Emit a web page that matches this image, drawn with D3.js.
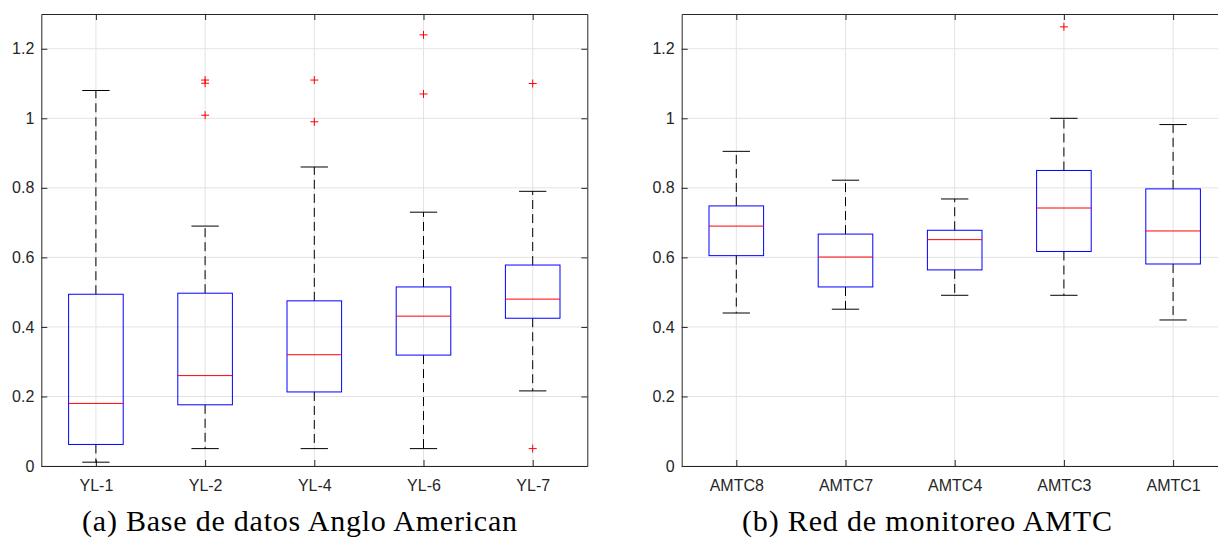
<!DOCTYPE html>
<html><head><meta charset="utf-8">
<script src="https://cdn.jsdelivr.net/npm/d3@7"></script>
<style>body{margin:0;background:#fff;}svg{display:block;}</style>
</head><body>
<svg id="c" width="1218" height="538"></svg>
<script>
// Panel (a)
const catsA = ["YL-1","YL-2","YL-4","YL-6","YL-7"];
const lowA  = [0.011,0.05,0.05,0.05,0.216];
const q1A   = [0.062,0.176,0.213,0.319,0.425];
const medA  = [0.18,0.26,0.32,0.431,0.48];
const q3A   = [0.494,0.497,0.475,0.515,0.578];
const highA = [1.08,0.69,0.86,0.73,0.79];
const outA  = [[],[1.11,1.101,1.009],[1.11,0.99],[1.24,1.07],[1.10,0.05]];
// Panel (b)
const catsB = ["AMTC8","AMTC7","AMTC4","AMTC3","AMTC1"];
const lowB  = [0.44,0.451,0.491,0.491,0.42];
const q1B   = [0.605,0.515,0.564,0.617,0.581];
const medB  = [0.69,0.601,0.651,0.742,0.676];
const q3B   = [0.748,0.667,0.678,0.85,0.797];
const highB = [0.905,0.822,0.768,1.0,0.982];
const outB  = [[],[],[],[1.263],[]];
const yTicks = [0,0.2,0.4,0.6,0.8,1.0,1.2];
const captions = ["(a) Base de datos Anglo American","(b) Red de monitoreo AMTC"];

(function(){
const svg = d3.select("#c");
const topY = 14, bottomY = 466, W = 546;
const y = d3.scaleLinear().domain([0,1.3]).range([bottomY, topY]);
const axisCol = "#262626";

function panel(x0, cats, low, q1, med, q3, high, outs, caption, capX, capW){
  const g = svg.append("g");
  const x = d3.scalePoint().domain(cats).range([x0, x0+W]).padding(0.5);
  const bw = x.step()*0.5, cw = x.step()*0.25;
  g.selectAll(".gy").data(yTicks).join("line")
    .attr("x1",x0).attr("x2",x0+W).attr("y1",d=>y(d)).attr("y2",d=>y(d))
    .attr("stroke","#e3e3e3").attr("stroke-width",1);
  g.selectAll(".gx").data(cats).join("line")
    .attr("x1",d=>x(d)).attr("x2",d=>x(d)).attr("y1",topY).attr("y2",bottomY)
    .attr("stroke","#e3e3e3").attr("stroke-width",1);
  const ax = d3.axisBottom(x).tickSizeInner(-6).tickSizeOuter(0).tickPadding(14);
  const gb = g.append("g").attr("transform",`translate(0,${bottomY})`).call(ax);
  const ay = d3.axisLeft(y).tickValues(yTicks).tickSizeInner(-6).tickSizeOuter(0).tickPadding(7)
     .tickFormat(d=>String(+d.toFixed(1)));
  const gl = g.append("g").attr("transform",`translate(${x0},0)`).call(ay);
  const at = d3.axisTop(x).tickSizeInner(-6).tickSizeOuter(0).tickFormat("");
  const gt = g.append("g").attr("transform",`translate(0,${topY})`).call(at);
  const ar = d3.axisRight(y).tickValues(yTicks).tickSizeInner(-6).tickSizeOuter(0).tickFormat("");
  const gr = g.append("g").attr("transform",`translate(${x0+W},0)`).call(ar);
  [gb,gl,gt,gr].forEach(a=>{
    a.select(".domain").attr("stroke",axisCol);
    a.selectAll(".tick line").attr("stroke",axisCol);
    a.selectAll("text").attr("fill",axisCol).style("font-family","'Liberation Sans',Arial,sans-serif").style("font-size","16px");
  });
  cats.forEach((c,i)=>{
    const cx = x(c);
    g.append("line").attr("x1",cx).attr("x2",cx).attr("y1",y(q3[i])).attr("y2",y(high[i]))
      .attr("stroke","#000").attr("stroke-dasharray","9,5").attr("stroke-width",1);
    g.append("line").attr("x1",cx).attr("x2",cx).attr("y1",y(q1[i])).attr("y2",y(low[i]))
      .attr("stroke","#000").attr("stroke-dasharray","9,5").attr("stroke-width",1);
    [high[i],low[i]].forEach(v=>g.append("line").attr("x1",cx-cw/2).attr("x2",cx+cw/2)
      .attr("y1",y(v)).attr("y2",y(v)).attr("stroke","#000").attr("stroke-width",1));
    g.append("rect").attr("x",cx-bw/2).attr("width",bw).attr("y",y(q3[i])).attr("height",y(q1[i])-y(q3[i]))
      .attr("fill","none").attr("stroke","#0000ff").attr("stroke-width",1);
    g.append("line").attr("x1",cx-bw/2).attr("x2",cx+bw/2).attr("y1",y(med[i])).attr("y2",y(med[i]))
      .attr("stroke","#ff0000").attr("stroke-width",1);
    outs[i].forEach(v=>{
      g.append("path").attr("d",`M${cx-4},${y(v)}H${cx+4}M${cx},${y(v)-4}V${y(v)+4}`)
        .attr("stroke","#ff0000").attr("stroke-width",1).attr("fill","none");
    });
  });
  svg.append("text").attr("x",capX).attr("y",531).attr("text-anchor","middle")
    .attr("textLength",capW).attr("lengthAdjust","spacing")
    .style("font-family","'Liberation Serif','DejaVu Serif',serif").style("font-size","30px")
    .attr("fill","#000").text(caption);
}
panel(41.3, catsA, lowA, q1A, medA, q3A, highA, outA, captions[0], 299.5, 435);
panel(681.7, catsB, lowB, q1B, medB, q3B, highB, outB, captions[1], 927, 370);
})();
</script>
</body></html>
